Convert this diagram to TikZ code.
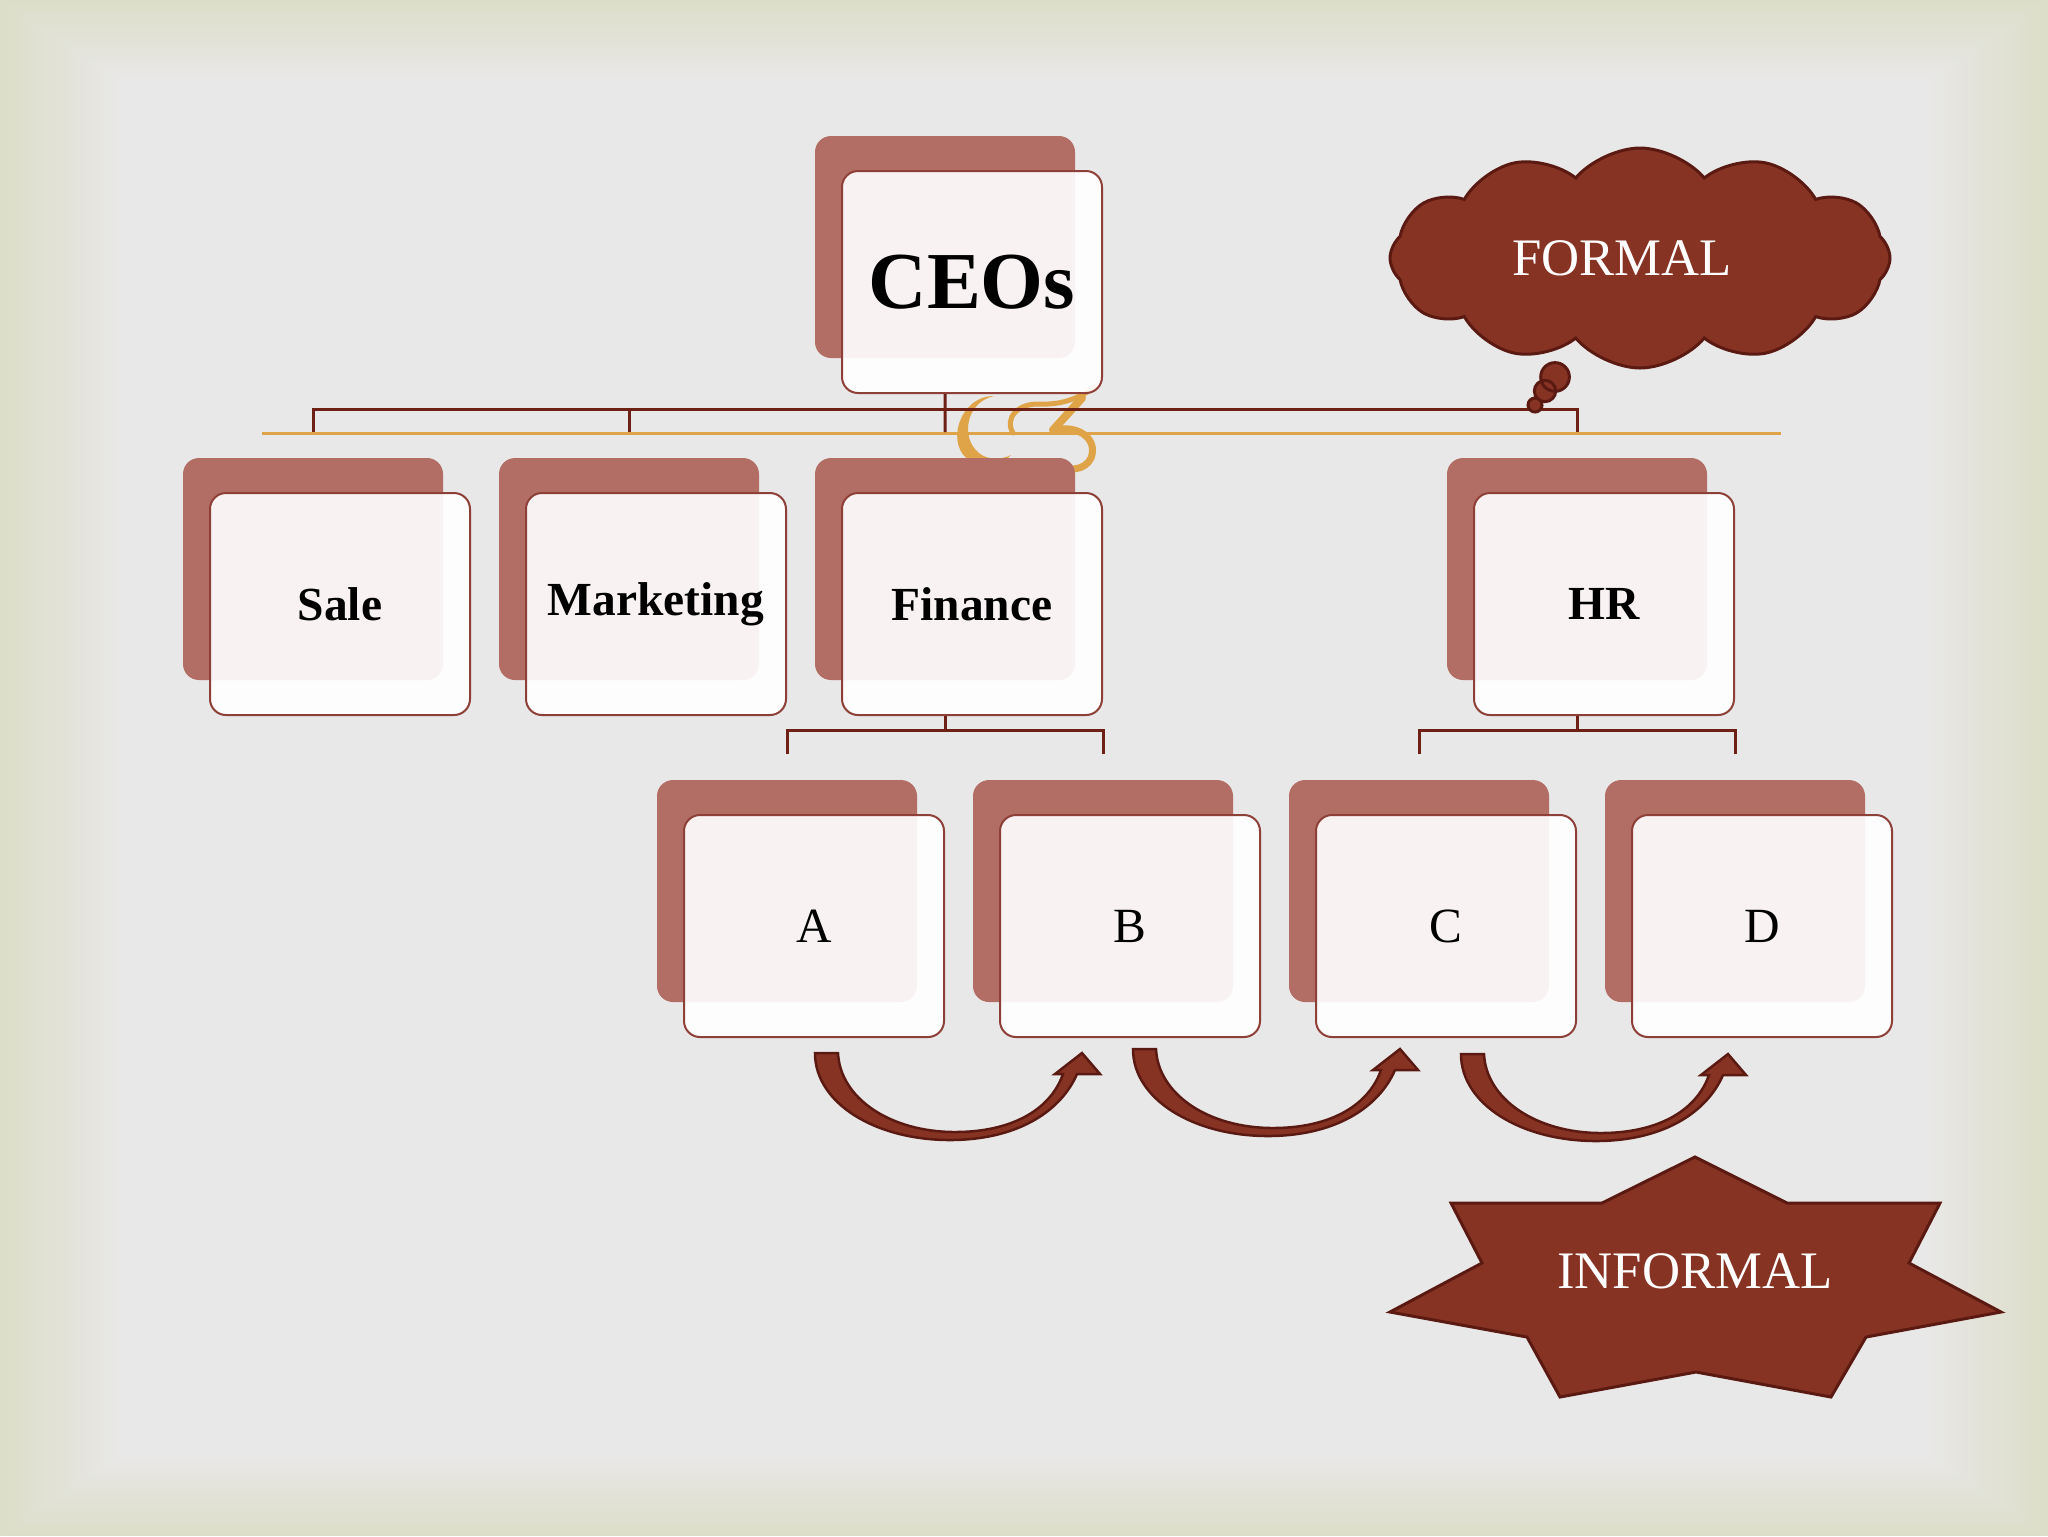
\documentclass[tikz,border=0pt]{standalone}
\usepackage{fontspec}
\setmainfont{Liberation Serif}
\usetikzlibrary{calc,positioning,shadows,shapes.symbols,shapes.callouts}
\definecolor{bgedge}{HTML}{DCDEC9}
\definecolor{bginner}{HTML}{E9E8E8}
\definecolor{shadowred}{HTML}{B26E64}
\definecolor{boxline}{HTML}{8E4038}
\definecolor{linkred}{HTML}{6E2015}
\definecolor{gold}{HTML}{E0A448}
\definecolor{brick}{HTML}{873323}
\definecolor{brickdark}{HTML}{5A1A12}
\tikzset{%
	unitbox/.style    = {draw=boxline, line width=0.2mm, fill=white, fill opacity=0.92, text opacity=1, rounded corners=1.6mm, minimum width=26mm, minimum height=22.2mm, inner sep=0pt, text centered, general shadow={shadow xshift=-2.7mm, shadow yshift=3.5mm, fill=shadowred, draw=none, fill opacity=1}},
	topbox/.style     = {unitbox, font=\bfseries\fontsize{23}{26}\selectfont},
	deptbox/.style    = {unitbox, font=\bfseries\fontsize{13.5}{16}\selectfont},
	teambox/.style    = {unitbox, font=\fontsize{14}{16}\selectfont},
	branch/.style     = {draw=linkred, line width=0.3mm},
	brickshape/.style = {fill=brick, draw=brickdark, line width=0.3mm},
	bubbletext/.style = {text=white, font=\fontsize{15}{18}\selectfont},
}
\begin{document}
\begin{tikzpicture}[x=0.1mm,y=-0.1mm]
	\useasboundingbox (0,0) rectangle (2048,1536);
	\fill[bgedge] (0,0) rectangle (2048,1536);
	\foreach \i in {0,...,19} {
		\pgfmathtruncatemacro{\p}{95-5*\i}
		\fill[bgedge!\p!bginner] (8+6*\i,5+4*\i) rectangle (2040-6*\i,1531-4*\i);
	}
	% theme line and ornament
	\draw[gold, line width=0.3mm] (262,433) -- (1781,433);
	\fill[gold] (994,396) .. controls (958,396) and (944,448) .. (972,462) .. controls (987,469) and (1003,464) .. (1011,455) .. controls (1001,460) and (987,460) .. (979,453) .. controls (960,438) and (966,402) .. (994,396) -- cycle;
	\draw[gold, line width=0.5mm, line cap=round] (1013,433) .. controls (1004,418) and (1018,403) .. (1040,404) .. controls (1062,405) and (1080,398) .. (1096,386);
	\draw[gold, line width=0.8mm, line cap=round] (1082,398) -- (1053,430);
	\draw[gold, line width=0.7mm, line cap=round] (1053,430) .. controls (1080,424) and (1098,440) .. (1091,458) .. controls (1085,471) and (1066,472) .. (1058,463);

	\node[topbox] (ceo) at (972,282) {CEOs};
	\node[deptbox] (sale) at (340,604) {Sale};
	\node[deptbox, right=5.4mm of sale] (mkt) {Marketing};
	\node[deptbox, right=5.4mm of mkt] (fin) {Finance};
	\node[deptbox, right=37mm of fin] (hr) {HR};
	\node[teambox] (a) at (814,926) {A};
	\node[teambox, right=5.4mm of a] (b) {B};
	\node[teambox, right=5.4mm of b] (c) {C};
	\node[teambox, right=5.4mm of c] (d) {D};

	\draw[branch] ($(sale.north)+(-27,-60)$) -- ++(0,-23) -| ($(hr.north)+(-27,-60)$);
	\draw[branch] ($(mkt.north)+(-27,-60)$) -- ++(0,-23);
	\draw[branch] ($(fin.north)+(-27,-60)$) -- ($(ceo.south)+(-27,0)$);
	\draw[branch] ($(fin.south)+(-27,0)$) -- ++(0,15);
	\draw[branch] ($(a.north)+(-27,-60)$) -- ++(0,-24) -| ($(b.north)+(-27,-60)$);
	\draw[branch] ($(hr.south)+(-27,0)$) -- ++(0,15);
	\draw[branch] ($(c.north)+(-27,-60)$) -- ++(0,-24) -| ($(d.north)+(-27,-60)$);

	% curved arrows
	\foreach \s/\dx/\dy in {a/1/15, b/3/11, c/15/16}
		\path[brickshape, line width=0.25mm, shift={($(\s.south)+(\dx,\dy)$)}] (0,0) .. controls (0,50) and (60,87) .. (135,87) .. controls (200,87) and (245,60) .. (262,21) -- (285,21) -- (267,0) -- (240,21) -- (248,21) .. controls (235,58) and (195,79) .. (140,79) .. controls (75,79) and (25,45) .. (23,0) -- cycle;

	\node[cloud callout, brickshape, bubbletext, cloud puffs=12, cloud puff arc=100, aspect=2.3, minimum width=50mm, minimum height=22mm, callout absolute pointer={(1535,405)}, callout pointer segments=3, callout pointer start size=4.2mm and 3.6mm, callout pointer end size=1.6mm and 1.4mm] (formal) at (1640,258) {FORMAL\hspace*{3.6mm}};

	\path[brickshape] (1695,1157) -- (1602,1203) -- (1451,1203) -- (1482,1263) -- (1390,1312) -- (1527,1337) -- (1560,1397) -- (1696,1372) -- (1831,1397) -- (1866,1337) -- (2001,1312) -- (1909,1263) -- (1940,1203) -- (1787,1203) -- cycle;
	\node[bubbletext] (informal) at (1695,1271) {INFORMAL};
\end{tikzpicture}
\end{document}
